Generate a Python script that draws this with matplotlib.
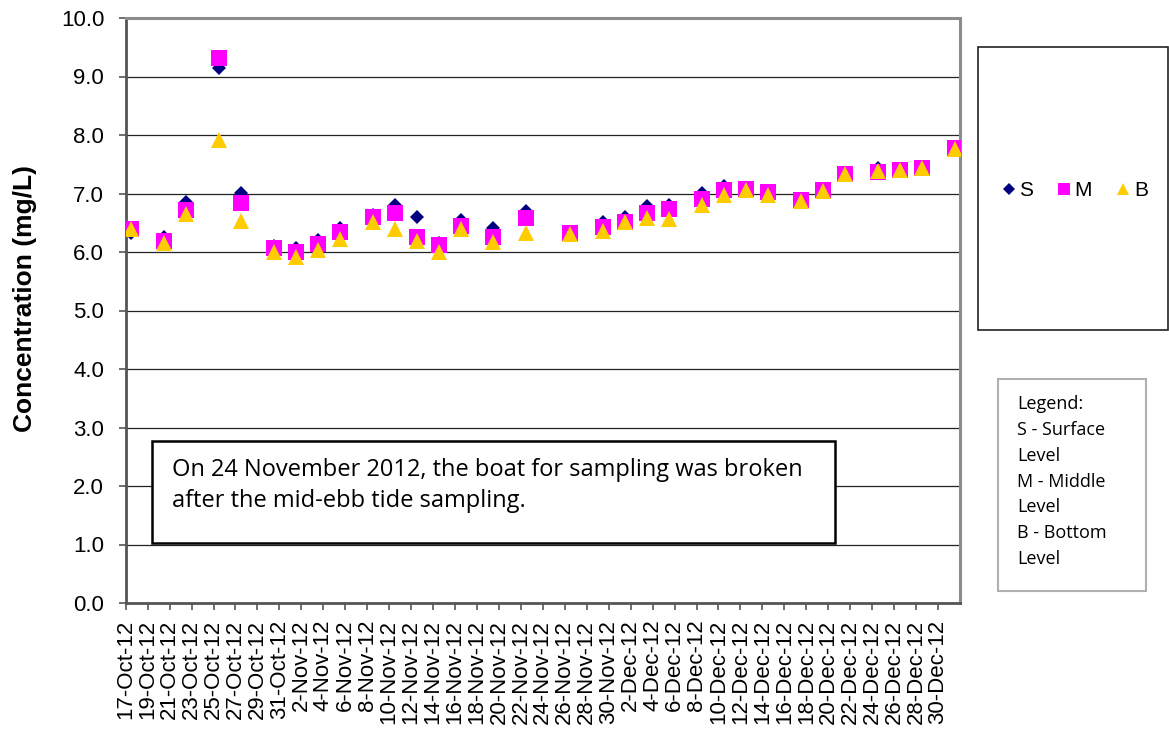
import numpy as np
import matplotlib
matplotlib.use("Agg")
import matplotlib.pyplot as plt
import matplotlib.dates as mdates
from matplotlib.patches import Rectangle
from matplotlib.lines import Line2D
from matplotlib.ticker import FuncFormatter

dates = ['2012-10-17', '2012-10-20', '2012-10-22', '2012-10-25', '2012-10-27', '2012-10-30',
         '2012-11-01', '2012-11-03', '2012-11-05', '2012-11-08', '2012-11-10', '2012-11-12',
         '2012-11-14', '2012-11-16', '2012-11-19', '2012-11-22', '2012-11-26', '2012-11-29',
         '2012-12-01', '2012-12-03', '2012-12-05', '2012-12-08', '2012-12-10', '2012-12-12',
         '2012-12-14', '2012-12-17', '2012-12-19', '2012-12-21', '2012-12-24', '2012-12-26',
         '2012-12-28', '2012-12-31']
S = [6.32, 6.25, 6.86, 9.14, 7.01, 6.10, 6.07, 6.20, 6.41, 6.63, 6.81, 6.60, 6.16, 6.55, 6.41, 6.70,
     6.35, 6.51, 6.59, 6.78, 6.81, 7.01, 7.12, 7.08, 7.04, 6.91, 7.08, 7.35, 7.44, 7.41, 7.43, 7.77]
M = [6.40, 6.19, 6.71, 9.32, 6.83, 6.07, 6.00, 6.14, 6.35, 6.60, 6.67, 6.25, 6.12, 6.45, 6.25, 6.58,
     6.33, 6.43, 6.52, 6.67, 6.73, 6.90, 7.06, 7.07, 7.02, 6.89, 7.06, 7.34, 7.36, 7.40, 7.43, 7.77]
B = [6.40, 6.16, 6.65, 7.92, 6.53, 6.00, 5.92, 6.03, 6.22, 6.52, 6.40, 6.18, 6.00, 6.40, 6.17, 6.33,
     6.30, 6.36, 6.51, 6.58, 6.57, 6.80, 6.98, 7.06, 6.98, 6.88, 7.04, 7.33, 7.38, 7.40, 7.43, 7.76]
series_names = ['S', 'M', 'B']
y_ticks = [0, 1, 2, 3, 4, 5, 6, 7, 8, 9, 10]
y_label = 'Concentration (mg/L)'
note_text = 'On 24 November 2012, the boat for sampling was broken\nafter the mid-ebb tide sampling.'
legend_note = 'Legend:\nS - Surface\nLevel\nM - Middle\nLevel\nB - Bottom\nLevel'

plt.rcParams['font.family'] = ['Liberation Sans', 'DejaVu Sans']

W, H = 1169, 734
fig = plt.figure(figsize=(W / 100, H / 100), dpi=100)
ax = fig.add_axes([125.7 / W, 1 - 603 / H, (960 - 125.7) / W, (603 - 18) / H])

x = np.array(dates, dtype='datetime64[D]').astype('datetime64[h]') + np.timedelta64(12, 'h')
x = x.astype('datetime64[ms]').astype(object)

styles = [dict(marker='D', color='#000080', ms=7.6),
          dict(marker='s', color='#FF00FF', ms=11),
          dict(marker='^', color='#FFCC00', ms=11.5)]
for vals, st, nm in zip([S, M, B], styles, series_names):
    ax.plot(x, vals, linestyle='none', marker=st['marker'], color=st['color'],
            markersize=st['ms'], markeredgewidth=0, label=nm, zorder=3)

start = np.datetime64('2012-10-17').astype('datetime64[ms]').astype(object)
end = np.datetime64('2013-01-01').astype('datetime64[ms]').astype(object)
ax.set_xlim(start, end)
ax.set_ylim(0, 10)
ax.set_yticks(y_ticks)
ax.yaxis.set_major_formatter(FuncFormatter(lambda v, p: f'{v:.1f}'))

tick_dates = np.arange(np.datetime64('2012-10-17'), np.datetime64('2012-12-31'), 2)
ax.set_xticks([mdates.date2num(d.astype('datetime64[ms]').astype(object)) for d in tick_dates])
ax.set_xticklabels([f"{d.astype(object).day}-{d.astype(object):%b-%y}" for d in tick_dates],
                   rotation=90)

ax.grid(axis='y', color='#222222', linewidth=0.9, zorder=1)
ax.set_axisbelow(True)
for side in ['left', 'bottom']:
    ax.spines[side].set_color('#555555')
    ax.spines[side].set_linewidth(2)
for side in ['right', 'top']:
    ax.spines[side].set_color('#8c8c8c')
    ax.spines[side].set_linewidth(2.2)
ax.tick_params(axis='both', direction='out', length=5, width=1.2, color='#555555',
               labelsize=16, labelcolor='black')
ax.tick_params(axis='y', pad=10.5)
ax.tick_params(axis='x', pad=7)
ax.set_ylabel(y_label, fontsize=19, fontweight='bold')
ax.yaxis.set_label_coords(-0.106, 0.52)

# series legend box
fig.patches.append(Rectangle((978 / W, 1 - 330 / H), (1168 - 978) / W, (330 - 47) / H,
                             transform=fig.transFigure, facecolor='white',
                             edgecolor='#222222', linewidth=1.2))
handles = [Line2D([], [], linestyle='none', marker=st['marker'], color=st['color'],
                  markersize=st['ms'] * 0.75, markeredgewidth=0) for st in styles]
fig.legend(handles, series_names, ncol=3, loc='center', frameon=False,
           bbox_to_anchor=(1075 / W, 1 - 191 / H), fontsize=15,
           handlelength=0.6, handletextpad=0.2, columnspacing=1.2, borderpad=0)

# note legend box
fig.patches.append(Rectangle((998 / W, 1 - 591 / H), (1146 - 998) / W, (591 - 379) / H,
                             transform=fig.transFigure, facecolor='white',
                             edgecolor='#b0b0b0', linewidth=1.5))
fig.text(1017 / W, 1 - 395 / H, legend_note, ha='left', va='top', fontsize=13,
         family=['Open Sans', 'DejaVu Sans'], linespacing=1.56)

# annotation box
fig.patches.append(Rectangle((152 / W, 1 - 543 / H), (835 - 152) / W, (543 - 441) / H,
                             transform=fig.transFigure, facecolor='white',
                             edgecolor='black', linewidth=1.8, zorder=5))
fig.text(172 / W, 1 - 458 / H, note_text, ha='left', va='top', fontsize=17,
         family=['Open Sans', 'DejaVu Sans'], linespacing=1.4, zorder=6)

fig.savefig('out.png', dpi=100)
